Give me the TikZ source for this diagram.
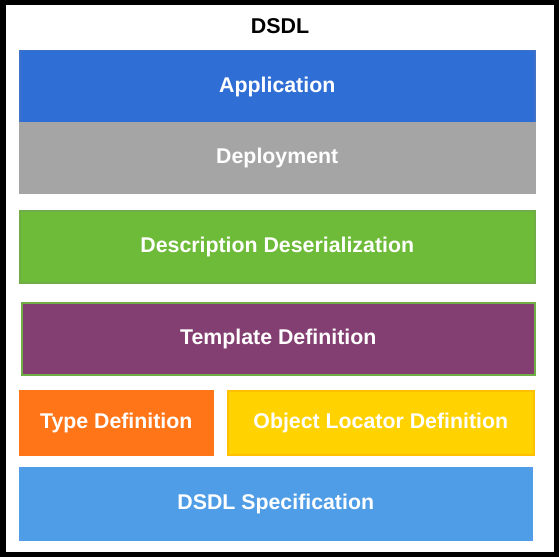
\documentclass[tikz,border=0pt]{standalone}
\usepackage{fontspec}
\setmainfont{Liberation Sans}
\usepackage{xcolor}
\usepackage{tikz}
\usetikzlibrary{positioning}
\definecolor{appcolor}{RGB}{47,110,213}
\definecolor{appborder}{RGB}{64,114,200}
\definecolor{deploycolor}{RGB}{165,165,165}
\definecolor{desccolor}{RGB}{109,187,57}
\definecolor{greenborder}{RGB}{112,173,71}
\definecolor{tmplcolor}{RGB}{132,63,114}
\definecolor{typecolor}{RGB}{255,117,24}
\definecolor{objcolor}{RGB}{255,210,0}
\definecolor{objborder}{RGB}{255,192,0}
\definecolor{speccolor}{RGB}{78,157,230}

\begin{document}
\begin{tikzpicture}[
    x=1bp, y=-1bp,
    node distance=18bp,
    layer/.style={rectangle, draw, line width=1.5bp, inner sep=0pt, outer sep=0pt,
        minimum width=515bp, minimum height=72bp, text=white,
        font=\bfseries\fontsize{21.4}{25}\selectfont},
    title/.style={font=\bfseries\fontsize{21.5}{25}\selectfont}
]
    \useasboundingbox (0,0) rectangle (559,557);
    % Frame
    \draw[line width=5.5bp] (2.75,2.75) rectangle (556.25,554.25);
    \node[title, anchor=base] (title) at (280,33.3) {DSDL};

    % Upper layers
    \node[layer, anchor=north west, fill=appcolor, draw=appborder] (app) at (19.75,50.75) {Application};
    \node[layer, below=0bp of app, minimum height=70bp, fill=deploycolor, draw=deploycolor] (deploy) {Deployment};
    \node[layer, below=18bp of deploy, fill=desccolor, draw=greenborder] (desc) {Description Deserialization};
    \node[layer, below left=20bp and 0bp of desc.south east, minimum width=513bp, fill=tmplcolor, draw=greenborder] (tmpl) {Template Definition};

    % Definitions
    \node[layer, anchor=north west, minimum width=193bp, minimum height=64bp, fill=typecolor, draw=typecolor] (type) at (19.75,390.75) {Type Definition};
    \node[layer, right=15bp of type, minimum width=306bp, minimum height=64bp, fill=objcolor, draw=objborder] (obj) {Object Locator Definition};

    % Specification
    \node[layer, below right=13bp and 0bp of type.south west, minimum width=512bp, fill=speccolor, draw=speccolor] (spec) {DSDL Specification};
\end{tikzpicture}
\end{document}
